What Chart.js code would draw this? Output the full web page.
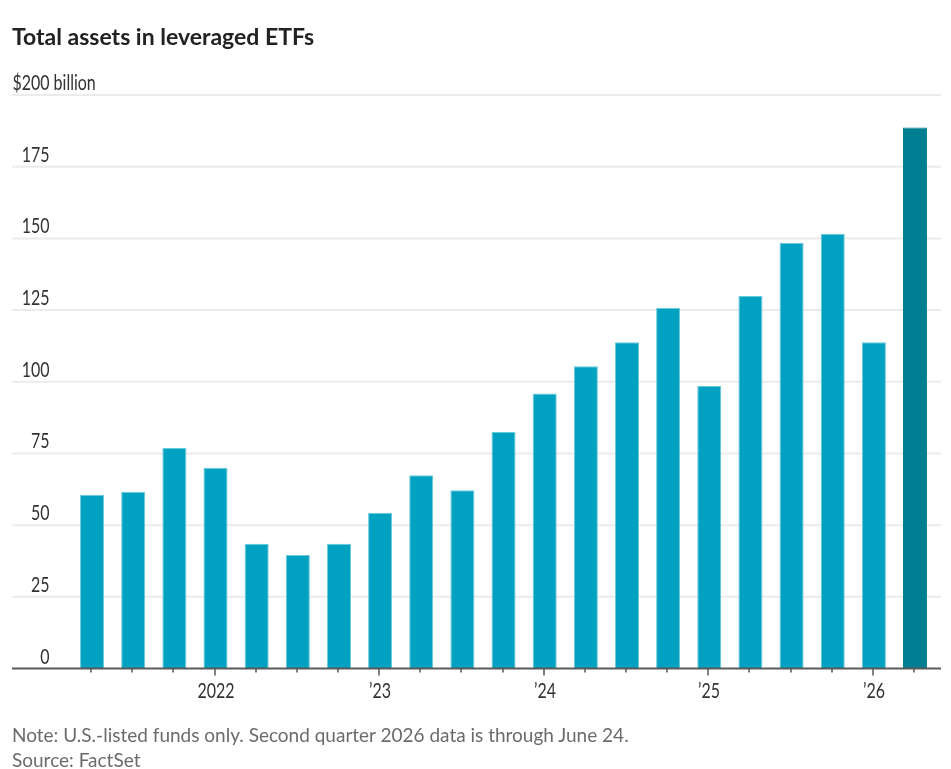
<!DOCTYPE html>
<html>
<head>
<meta charset="utf-8">
<script src="https://cdn.jsdelivr.net/npm/chart.js@4.4.1/dist/chart.umd.min.js"></script>
<style>
  html, body { margin: 0; padding: 0; background: #fff; }
  #wrap { position: relative; width: 951px; height: 769px; overflow: hidden; }
  #chart { position: absolute; left: 0; top: 0; }
  .title { position: absolute; left: 12px; top: 24.5px; font: bold 23px Lato, sans-serif; line-height: 1; color: #222; }
  .note { position: absolute; left: 12px; font: 19px Lato, sans-serif; line-height: 1; color: #6b6b6b; }
</style>
</head>
<body>
<div id="wrap">
  <canvas id="chart" width="951" height="769"></canvas>
  <div class="title">Total assets in leveraged ETFs</div>
  <div class="note" style="top:724.9px">Note: U.S.-listed funds only. Second quarter 2026 data is through June 24.</div>
  <div class="note" style="top:750.2px">Source: FactSet</div>
</div>
<script>
// quarterly totals, $ billion
const quarters = [
  'Q2 2021', 'Q3 2021', 'Q4 2021',
  'Q1 2022', 'Q2 2022', 'Q3 2022', 'Q4 2022',
  'Q1 2023', 'Q2 2023', 'Q3 2023', 'Q4 2023',
  'Q1 2024', 'Q2 2024', 'Q3 2024', 'Q4 2024',
  'Q1 2025', 'Q2 2025', 'Q3 2025', 'Q4 2025',
  'Q1 2026', 'Q2 2026'
];
const assets = [
  60.6, 61.6, 76.9,
  70.0, 43.5, 39.6, 43.5,
  54.3, 67.4, 62.2, 82.5,
  95.9, 105.4, 113.8, 125.7,
  98.5, 129.9, 148.5, 151.6,
  113.8, 188.7
];
const xTickLabels = [
  '', '', '',
  '2022', '', '', '',
  '\u201923', '', '', '',
  '\u201924', '', '', '',
  '\u201925', '', '', '',
  '\u201926', ''
];
const yTicks = [0, 25, 50, 75, 100, 125, 150, 175, 200];

const barColor = '#00a1c1';
const barEdge = '#6ccadb';
const lastColor = '#007f92';
const tickFont = '20.5px Lato, sans-serif';
const narrow = 0.78; // the original uses a condensed face

function narrowText(ctx, text, x, y, align) {
  ctx.save();
  ctx.translate(x, y);
  ctx.scale(narrow, 1);
  ctx.textAlign = align;
  ctx.fillText(text, 0, 0);
  ctx.restore();
}

const decor = {
  id: 'decor',
  beforeDatasetsDraw(chart) {
    const ctx = chart.ctx;
    const y = chart.scales.y;
    ctx.save();
    ctx.strokeStyle = '#ebebeb';
    ctx.lineWidth = 2;
    yTicks.forEach(v => {
      if (v === 0) return;
      const py = y.getPixelForValue(v);
      ctx.beginPath();
      ctx.moveTo(12, py);
      ctx.lineTo(941, py);
      ctx.stroke();
    });
    ctx.font = tickFont;
    ctx.fillStyle = '#333';
    ctx.textBaseline = 'alphabetic';
    yTicks.forEach((v, i) => {
      const py = y.getPixelForValue(v) - 5;
      const last = i === yTicks.length - 1;
      narrowText(ctx, (last ? '$' : '') + v, 49.5, py, 'right');
      if (last) narrowText(ctx, ' billion', 49.5, py, 'left');
    });
    ctx.restore();
  },
  afterDatasetsDraw(chart) {
    const ctx = chart.ctx;
    const x = chart.scales.x;
    const base = chart.scales.y.getPixelForValue(0);
    ctx.save();
    ctx.strokeStyle = '#555';
    ctx.lineWidth = 1.5;
    ctx.font = tickFont;
    ctx.fillStyle = '#333';
    ctx.textBaseline = 'alphabetic';
    quarters.forEach((q, i) => {
      const px = Math.round(x.getPixelForValue(i)) - 1;
      const len = xTickLabels[i] ? 7 : 4;
      ctx.beginPath();
      ctx.moveTo(px, base);
      ctx.lineTo(px, base + len);
      ctx.stroke();
      if (xTickLabels[i]) narrowText(ctx, xTickLabels[i], px + 1, base + 29.5, 'center');
    });
    ctx.lineWidth = 2;
    ctx.strokeStyle = '#5a5a5a';
    ctx.beginPath();
    ctx.moveTo(12, base);
    ctx.lineTo(941, base);
    ctx.stroke();
    ctx.restore();
  }
};

new Chart(document.getElementById('chart'), {
  type: 'bar',
  data: {
    labels: quarters,
    datasets: [{
      data: assets,
      backgroundColor: c => c.dataIndex === assets.length - 1 ? lastColor : barColor,
      borderColor: c => c.dataIndex === assets.length - 1 ? lastColor : barEdge,
      borderWidth: 1,
      barPercentage: 0.585,
      categoryPercentage: 1
    }]
  },
  options: {
    responsive: false,
    animation: false,
    events: [],
    layout: {
      padding: { top: 95, left: 71.5, right: 15.4, bottom: 60.5 }
    },
    plugins: {
      legend: { display: false },
      tooltip: { enabled: false }
    },
    scales: {
      x: {
        offset: true,
        grid: { display: false, drawTicks: false },
        border: { display: false },
        ticks: { display: false },
        afterFit(scale) { scale.height = 40; }
      },
      y: {
        min: 0,
        max: 200,
        grid: { display: false, drawTicks: false },
        border: { display: false },
        ticks: { display: false, stepSize: 25 }
      }
    }
  },
  plugins: [decor]
});
</script>
</body>
</html>
